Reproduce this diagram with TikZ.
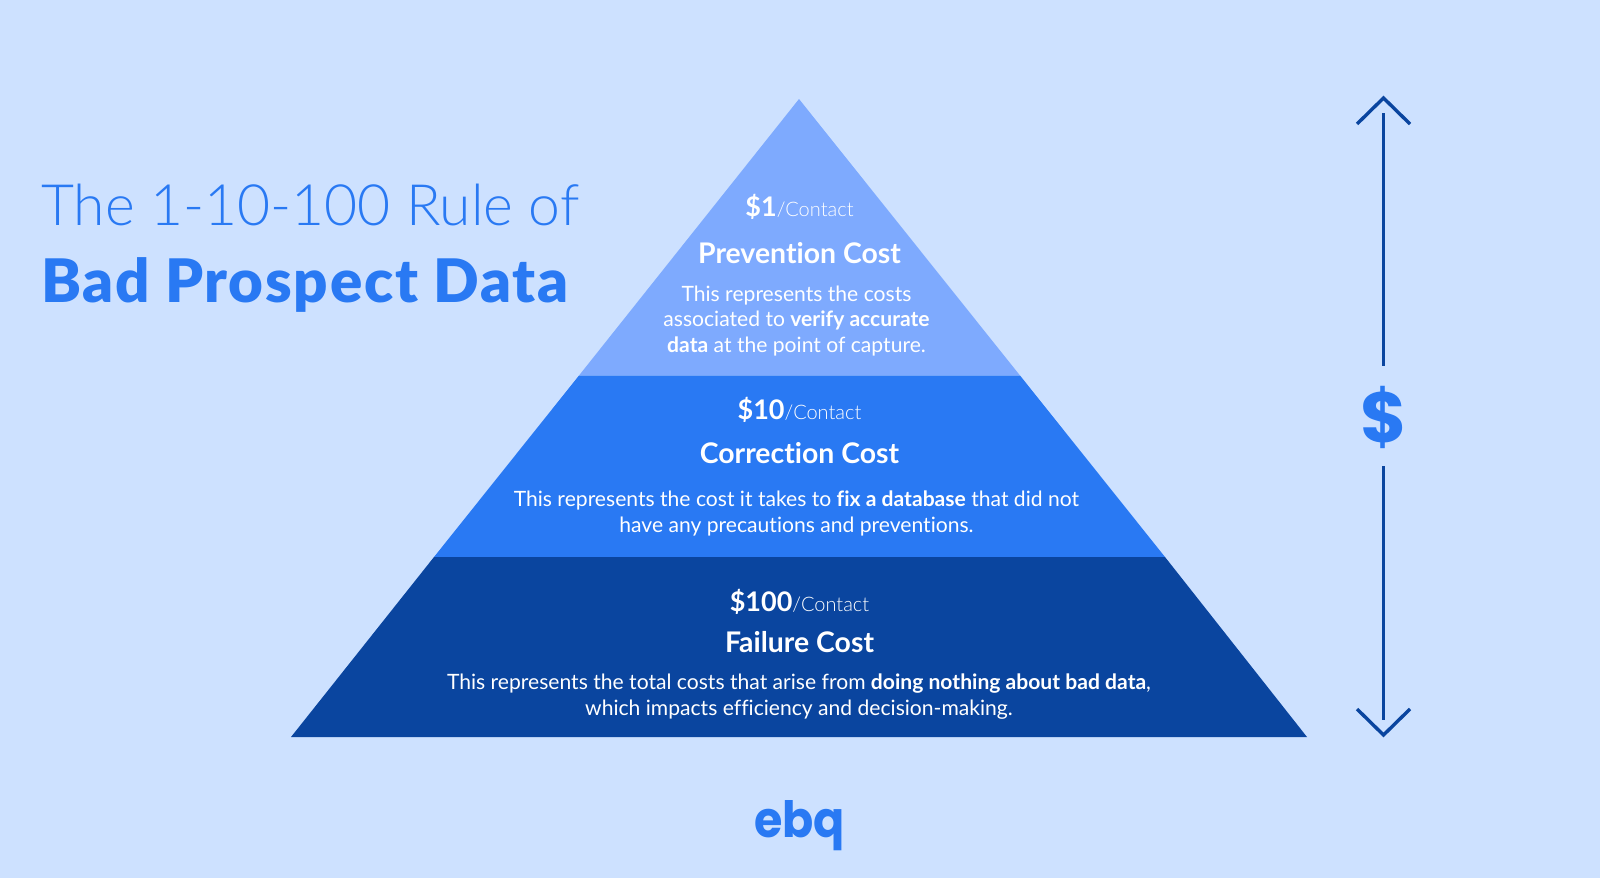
\documentclass[tikz,border=0pt]{standalone}
\usepackage{fontspec}
\setmainfont{Lato}[Ligatures=NoCommon]
\newfontfamily\lightf{Lato Light}[Ligatures=NoCommon]
\newfontfamily\blackf[LetterSpace=2.8,Ligatures=NoCommon]{Lato Black}
\newfontfamily\logof{Poppins}[BoldFont={Poppins Bold}]
\definecolor{bgc}{HTML}{CDE1FF}
\definecolor{topc}{HTML}{7EAAFE}
\definecolor{midc}{HTML}{2979F3}
\definecolor{lowc}{HTML}{0A459F}
\newcommand{\pricetag}[1]{{\fontsize{27}{30}\bfseries\selectfont\$#1}{\fontsize{20}{24}\lightf\selectfont/Contact}}
\tikzset{
  band/.style={fill=#1,draw=none},
  price/.style={anchor=base,text=white,inner sep=0pt},
  heading/.style={anchor=base,text=white,inner sep=0pt,font=\fontsize{28.4}{32}\bfseries\selectfont},
  body/.style={anchor=base,text=white,inner sep=0pt,align=center,font=\fontsize{21.1}{25.3}\selectfont},
  arrowline/.style={draw=lowc,line width=3.4pt},
  title/.style={anchor=base west,text=midc,inner sep=0pt},
}
\begin{document}
\begin{tikzpicture}[x=1pt,y=-1pt]
\useasboundingbox (0,0) rectangle (1600,878);
\fill[bgc] (0,0) rectangle (1600,878);
\fill[band=topc] (799,99) -- (1020,375.5) -- (579,375.5) -- cycle;
\fill[band=midc] (579,375.5) -- (1020,375.5) -- (1165,557) -- (434,557) -- cycle;
\fill[band=lowc] (434,557) -- (1165,557) -- (1307,737) -- (291,737) -- cycle;
\node[title,font=\fontsize{57}{66}\lightf\selectfont] (t1) at (41,225) {The 1-10-100 Rule of};
\node[title,font=\fontsize{60}{70}\blackf\selectfont] (t2) at (41,302) {Bad Prospect Data};
\node[price] (p1) at (799.5,216) {\pricetag{1}};
\node[heading] (h1) at (799.5,263.5) {Prevention Cost};
\node[body] (b1) at (796.5,352) {This represents the costs\\associated to \textbf{verify accurate}\\\textbf{data} at the point of capture.};
\node[price] (p2) at (799.5,419) {\pricetag{10}};
\node[heading] (h2) at (799.5,463.5) {Correction Cost};
\node[body] (b2) at (796.5,532) {This represents the cost it takes to \textbf{fix a database} that did not\\have any precautions and preventions.};
\node[price] (p3) at (799.5,611) {\pricetag{100}};
\node[heading] (h3) at (799.5,652.5) {Failure Cost};
\node[body] (b3) at (799,715) {This represents the total costs that arise from \textbf{doing nothing about bad data},\\which impacts efficiency and decision-making.};
\coordinate (upTip) at (1383.5,98);
\coordinate (upL) at (1357,124);
\coordinate (upR) at (1410,124);
\coordinate (upTop) at (1383.5,113);
\coordinate (upEnd) at (1383.5,366);
\coordinate (dnTip) at (1383.5,735);
\coordinate (dnL) at (1357,709);
\coordinate (dnR) at (1410,709);
\coordinate (dnEnd) at (1383.5,720);
\coordinate (dnTop) at (1383.5,466);
\draw[arrowline] (upTop) -- (upEnd);
\draw[arrowline] (dnTop) -- (dnEnd);
\draw[arrowline,line join=miter] (upL) -- (upTip) -- (upR);
\draw[arrowline,line join=miter] (dnL) -- (dnTip) -- (dnR);
\node[text=midc,inner sep=0pt,font=\fontsize{71}{74}\logof\bfseries\selectfont] (dollar) at (1384,417) {\$};
\node[text=midc,anchor=base,inner sep=0pt,font=\fontsize{50}{60}\logof\bfseries\selectfont] (logo) at (799.5,837) {\scalebox{0.92}[1]{ebq}};
\end{tikzpicture}
\end{document}
